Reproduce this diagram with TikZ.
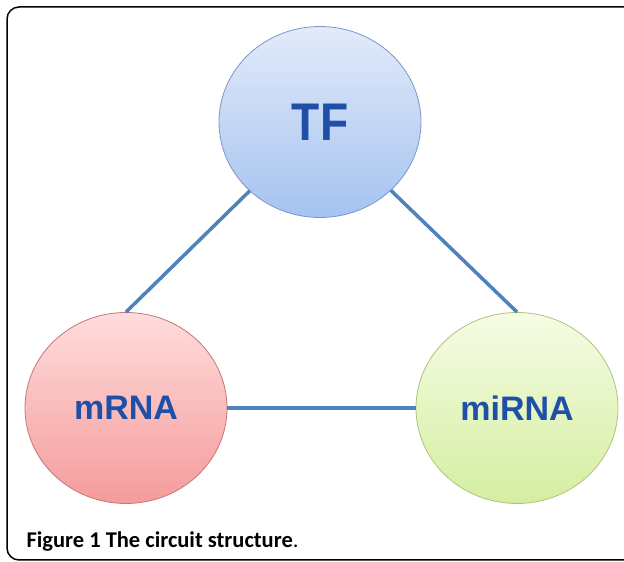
\documentclass[tikz,border=0pt]{standalone}
\usepackage{fontspec}
\setsansfont{Carlito}
\newfontfamily\labelfont{Liberation Sans}
\usetikzlibrary{positioning,shapes.geometric}

\definecolor{linkblue}{RGB}{79,129,189}
\definecolor{textblue}{RGB}{30,80,168}
\definecolor{tftop}{RGB}{226,234,250}
\definecolor{tfbot}{RGB}{165,195,240}
\definecolor{tfline}{RGB}{125,150,200}
\definecolor{mrnatop}{RGB}{255,220,220}
\definecolor{mrnabot}{RGB}{245,155,155}
\definecolor{mrnaline}{RGB}{195,120,120}
\definecolor{mirnatop}{RGB}{246,252,228}
\definecolor{mirnabot}{RGB}{212,238,160}
\definecolor{mirnaline}{RGB}{175,195,125}

\begin{document}
\begin{tikzpicture}[x=1pt,y=1pt,auto,on grid,node distance=286pt and 194pt,
  main node/.style={ellipse,minimum width=202pt,minimum height=191pt,inner sep=0pt,line width=0.8pt,
    text=textblue,font=\labelfont\bfseries\fontsize{34}{34}\selectfont}]
  \useasboundingbox (0,0) rectangle (624,562);
  \draw[line width=1.5pt,rounded corners=12pt] (7,2) rectangle (660,555);

  \node[main node,draw=tfline,top color=tftop,bottom color=tfbot] (tf) at (320,440)
    {\fontsize{53}{53}\selectfont\scalebox{.87}[1]{TF}};
  \node[main node,draw=mrnaline,top color=mrnatop,bottom color=mrnabot] (mrna) [below left=of tf] {mRNA};
  \node[main node,draw=mirnaline,top color=mirnatop,bottom color=mirnabot] (mirna) [right=391pt of mrna] {miRNA};

  \path[draw=linkblue,line width=3.5pt]
    (mrna.north) edge (tf)
    (mirna.north) edge (tf)
    (mrna) edge (mirna);

  \node[anchor=base west,font=\sffamily\fontsize{22.5}{22.5}\selectfont] (caption) at (23,14)
    {\textbf{Figure 1 The circuit structure}.};
\end{tikzpicture}
\end{document}
